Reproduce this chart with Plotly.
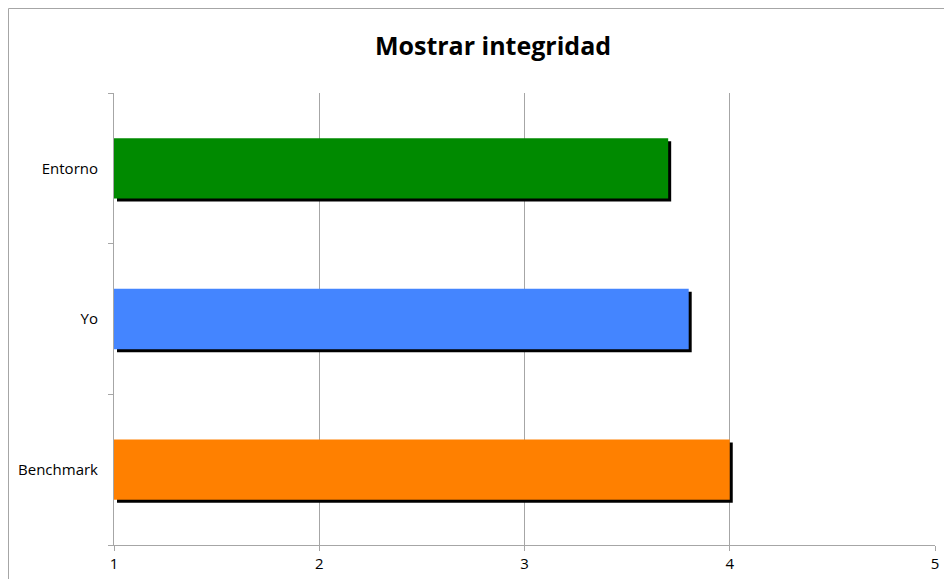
import plotly.graph_objects as go

categories = ["Benchmark", "Yo", "Entorno"]
values = [4.0, 3.8, 3.7]
colors = ["#FF8000", "#4485FF", "#008A00"]
x_ticks = [1, 2, 3, 4, 5]
title_text = "Mostrar integridad"

W, H = 952, 579
OFF = 8  # page body margin
L, R, T, B = 114 - OFF, 17 + OFF, 93 - OFF, 34 + OFF
plot_w = W - L - R
plot_h = H - T - B
x_min, x_max = 1, 5
dx = 3 * (x_max - x_min) / plot_w      # shadow offset (3px) in data units
dy = 3 * len(categories) / plot_h      # shadow offset (3px) in category units
bar_w = 0.4

fig = go.Figure()
# shadow
fig.add_trace(go.Bar(
    y=categories, x=[v - x_min for v in values], base=x_min + dx,
    orientation="h", width=bar_w, offset=-bar_w / 2 - dy,
    marker=dict(color="black", line=dict(width=0)),
    hoverinfo="skip", showlegend=False,
))
# bars
fig.add_trace(go.Bar(
    y=categories, x=[v - x_min for v in values], base=x_min,
    orientation="h", width=bar_w, offset=-bar_w / 2,
    marker=dict(color=colors, line=dict(width=0)),
    showlegend=False,
))

fig.update_layout(
    width=W, height=H,
    margin=dict(l=L, r=R, t=T, b=B, autoexpand=False),
    paper_bgcolor="white", plot_bgcolor="white",
    barmode="overlay",
    font=dict(family="Open Sans, Liberation Sans, sans-serif", size=15, color="black"),
    title=dict(text="<b>" + title_text + "</b>", x=(493 - OFF) / W, xanchor="center",
               y=1 - (46 - OFF) / H, yanchor="middle",
               font=dict(size=25, family="Open Sans, sans-serif", color="black")),
    xaxis=dict(range=[x_min, x_max], tickvals=x_ticks, ticktext=[str(t) for t in x_ticks],
               showgrid=True, gridcolor="#A6A6A6", gridwidth=1,
               showline=True, linecolor="#A6A6A6", linewidth=1,
               ticks="outside", ticklen=5, tickcolor="#A6A6A6",
               zeroline=False, fixedrange=True, automargin=False),
    yaxis=dict(categoryorder="array", categoryarray=categories,
               range=[-0.5, len(categories) - 0.5],
               showgrid=False, showline=True, linecolor="#A6A6A6", linewidth=1,
               ticks="outside", ticklen=5, tickcolor="#A6A6A6",
               tickson="boundaries", ticklabelstandoff=12, zeroline=False,
               fixedrange=True, automargin=False),
    shapes=[dict(type="rect", xref="paper", yref="paper",
                 x0=(0.5 - L) / plot_w, x1=(W + 20 - L) / plot_w,
                 y0=-(B + 20) / plot_h, y1=(H - B - 0.5) / plot_h,
                 line=dict(color="#A6A6A6", width=1), fillcolor="rgba(0,0,0,0)", layer="below")],
)

fig.write_html("out.html")
